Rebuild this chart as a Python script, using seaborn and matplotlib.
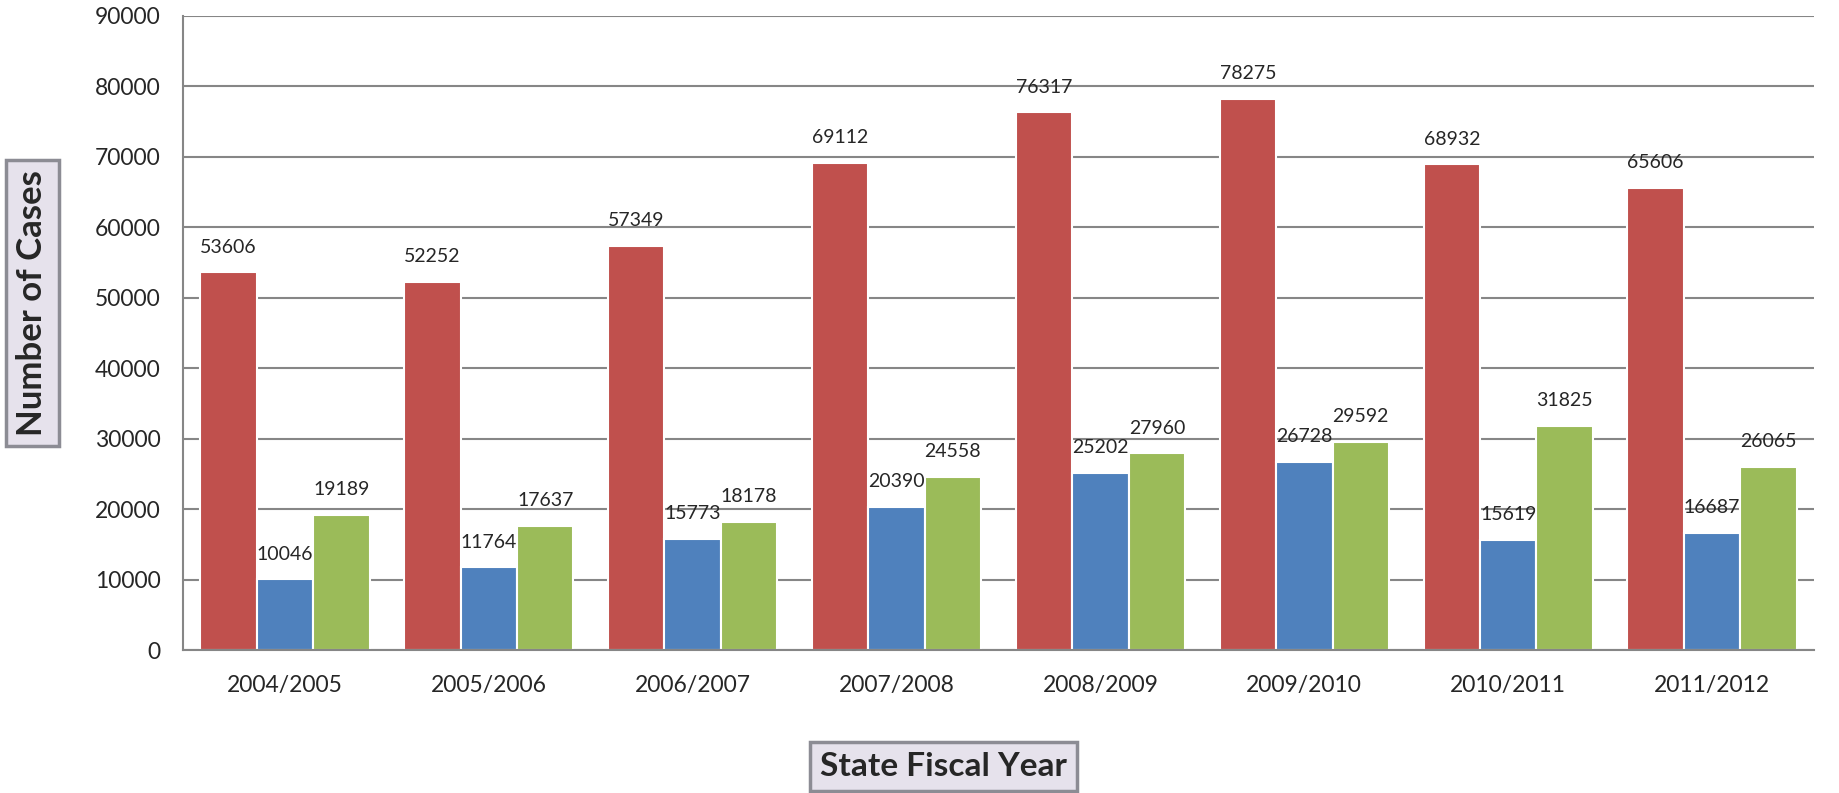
import numpy as np
import pandas as pd
import seaborn as sns
import matplotlib.pyplot as plt
from matplotlib.ticker import FixedLocator

years = ["2004/2005", "2005/2006", "2006/2007", "2007/2008",
         "2008/2009", "2009/2010", "2010/2011", "2011/2012"]
series_a = [53606, 52252, 57349, 69112, 76317, 78275, 68932, 65606]
series_b = [10046, 11764, 15773, 20390, 25202, 26728, 15619, 16687]
series_c = [19189, 17637, 18178, 24558, 27960, 29592, 31825, 26065]
series_names = ["Series A", "Series B", "Series C"]
colors = ["#C0504D", "#4F81BD", "#9BBB59"]

df = pd.DataFrame({
    "year": years * 3,
    "series": np.repeat(series_names, len(years)),
    "cases": series_a + series_b + series_c,
})

sns.set_style("white")
plt.rcParams["font.family"] = ["Lato", "DejaVu Sans"]

fig = plt.figure(figsize=(18.39, 7.93), dpi=100)
ax = fig.add_axes([0.0995, 0.180, 0.8869, 0.800])

sns.barplot(
    data=df, x="year", y="cases", hue="series",
    hue_order=series_names, palette=colors, saturation=1,
    width=0.83, edgecolor="white", linewidth=1.5,
    legend=False, ax=ax,
)

for cont in ax.containers:
    ax.bar_label(cont, fmt="%d", padding=12, fontsize=14)

ax.set_ylim(0, 90000)
ax.set_xlim(-0.5, len(years) - 0.5)
ax.set_yticks(np.arange(0, 90001, 10000))
ax.yaxis.grid(True, color="#868686", linewidth=1.5)
ax.set_axisbelow(True)

for s in ["top", "right"]:
    ax.spines[s].set_visible(False)
for s in ["left", "bottom"]:
    ax.spines[s].set_color("#868686")
    ax.spines[s].set_linewidth(1.5)

ax.tick_params(axis="y", length=8, width=1.5, color="#868686", labelsize=16.5, pad=8)
ax.tick_params(axis="x", which="major", length=0, labelsize=16.5, pad=18)
ax.xaxis.set_minor_locator(FixedLocator(np.arange(-0.5, len(years), 1.0)))
ax.tick_params(axis="x", which="minor", length=8, width=1.5, color="#868686")
ax.set_xlabel("")
ax.set_ylabel("")

box = dict(boxstyle="square,pad=0.3", facecolor="#E6E2EC", edgecolor="#8C8C94", linewidth=2.5)
fig.text(0.0175, 0.618, "Number of Cases", rotation=90, ha="center", va="center",
         fontsize=25, fontweight="bold", bbox=box)
fig.text(0.513, 0.034, "State Fiscal Year", ha="center", va="center",
         fontsize=24, fontweight="bold", bbox=box)

fig.savefig("out.png", dpi=100)
